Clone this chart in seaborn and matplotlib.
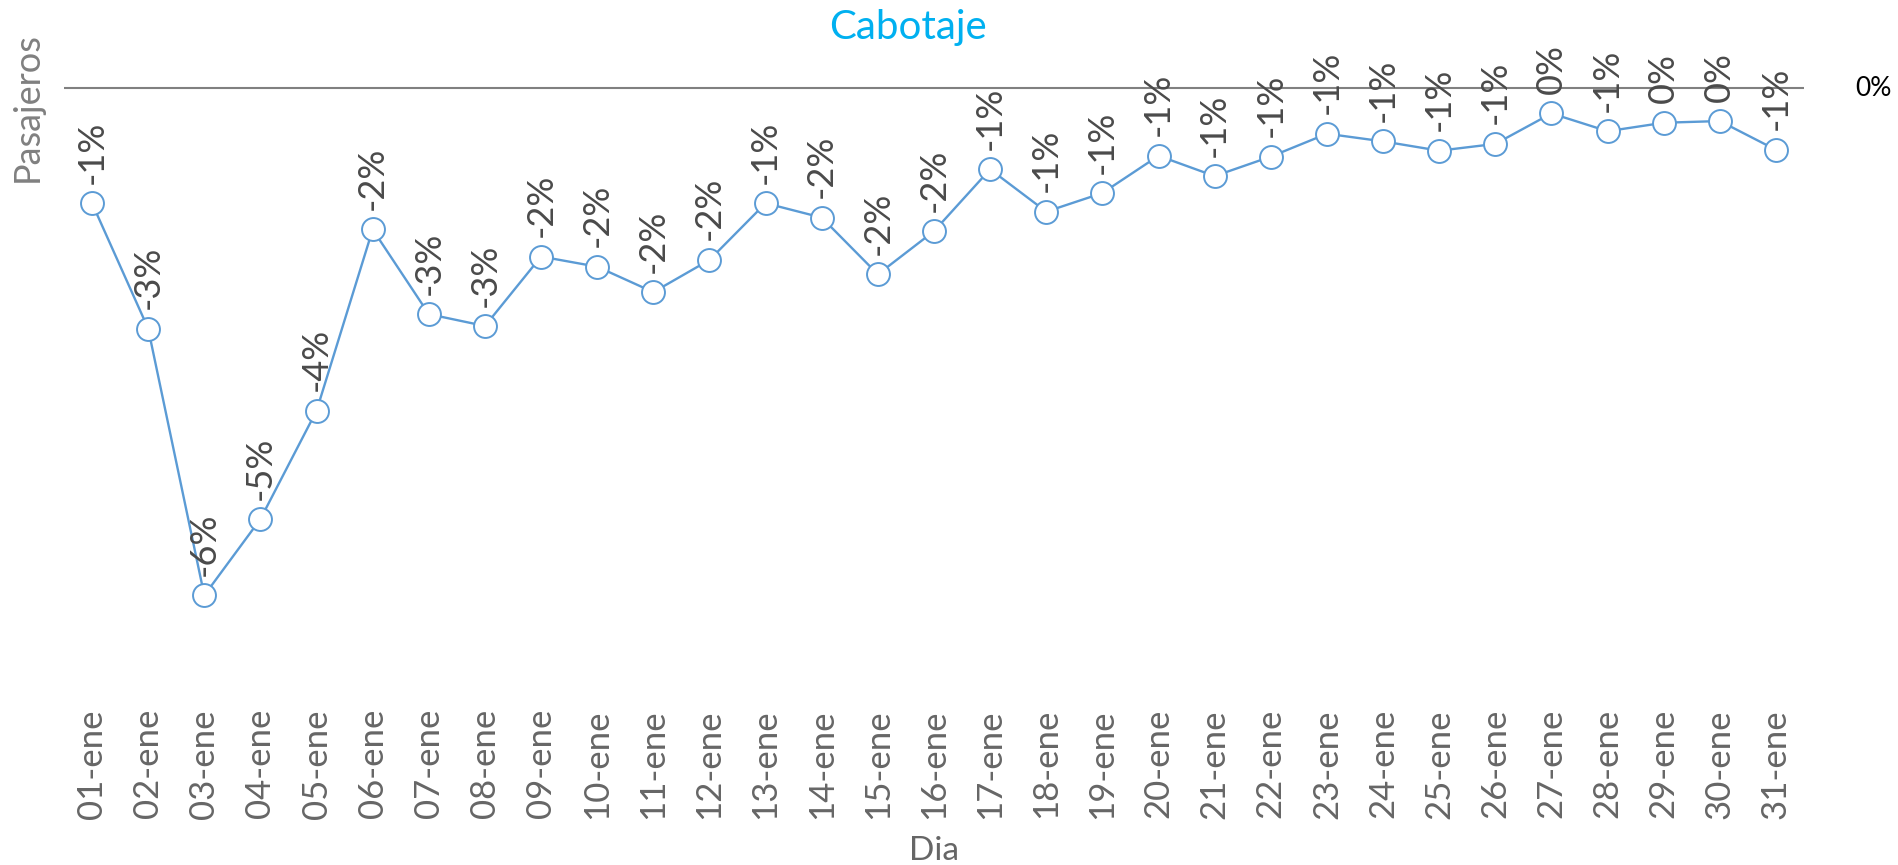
# Cabotaje - variación diaria de pasajeros

import numpy as np
import pandas as pd
import matplotlib
matplotlib.use("Agg")
import matplotlib.pyplot as plt
import seaborn as sns

dias = [f"{d:02d}-ene" for d in range(1, 32)]
variacion = [
    -1.36, -2.84, -5.99, -5.09, -3.81, -1.67, -2.67, -2.81, -1.99, -2.11,
    -2.41, -2.03, -1.36, -1.53, -2.20, -1.69, -0.96, -1.46, -1.24, -0.80,
    -1.04, -0.81, -0.54, -0.63, -0.74, -0.66, -0.30, -0.51, -0.41, -0.39,
    -0.73,
]

df = pd.DataFrame({"pos": np.arange(len(dias)), "dia": dias, "var": variacion})

sns.set_style("white")
plt.rcParams["font.family"] = ["Lato", "DejaVu Sans"]

azul = "#5B9BD5"
gris_texto = "#666666"

fig = plt.figure(figsize=(18.98, 8.65), dpi=100)
ax = fig.add_axes([0.0337, 0.1835, 0.9168, 0.7686])

sns.lineplot(
    data=df, x="pos", y="var", ax=ax, color=azul, linewidth=1.7,
    marker="o", markersize=16.5, markerfacecolor="white",
    markeredgecolor=azul, markeredgewidth=1.4, zorder=3,
)

ax.axhline(0, color="#808080", linewidth=1.5, zorder=1)

# etiquetas de datos
for i, v in enumerate(variacion):
    ax.annotate(
        f"{int(round(v))}%", (i, v), xytext=(0, 14), textcoords="offset points",
        rotation=90, ha="center", va="bottom", fontsize=26, color="#4a4a4a",
    )

ax.text(1.04, 0, "0%", transform=ax.get_yaxis_transform(), ha="center",
        va="center", fontsize=19, color="black")

ax.set_xlim(-0.5, len(dias) - 0.5)
ax.set_ylim(-7.3, 0.55)
ax.set_xticks(df["pos"])
ax.set_xticklabels(dias, rotation=90, fontsize=25, color=gris_texto)
ax.tick_params(axis="x", length=0, pad=2)
ax.set_yticks([])
sns.despine(ax=ax, left=True, bottom=True)

ax.set_xlabel("Dia", fontsize=24, color=gris_texto, va="center")
ax.xaxis.set_label_coords(0.5, -0.2176)
ax.set_ylabel("Pasajeros", fontsize=26, color="#808080", va="center", ha="center")
ax.yaxis.set_label_coords(-0.0213, 0.902)

ax.set_title("Cabotaje", fontsize=29, color="#00B0F0", x=0.485, y=1.0217,
             va="center", pad=0)

fig.savefig("out.png", dpi=100)
